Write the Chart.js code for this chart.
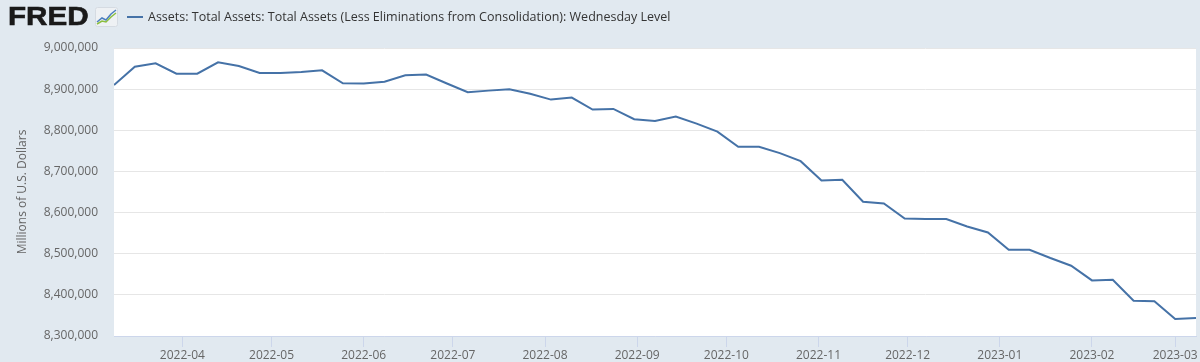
<!DOCTYPE html>
<html>
<head>
<meta charset="utf-8">
<script src="https://cdn.jsdelivr.net/npm/chart.js@4/dist/chart.umd.min.js"></script>
<style>
  html, body { margin: 0; padding: 0; background: #e1e9f0; }
  #wrap { position: relative; width: 1200px; height: 362px; overflow: hidden; }
  #chart { position: absolute; left: 0; top: 0; }
  #logo { position: absolute; left: 8px; top: 1px; font-family: "Liberation Sans", Arial, sans-serif;
          font-weight: 900; font-size: 26px; letter-spacing: 0; color: #1a1a1a;
          transform: scaleX(1.14); transform-origin: left top; -webkit-text-stroke: 0.6px #1a1a1a; }
  #icon { position: absolute; left: 95px; top: 7px; }
  #legend { position: absolute; left: 127px; top: 8px; font-family: "Open Sans", sans-serif;
            font-size: 12.5px; color: #333; white-space: nowrap; }
  #legend i { display: inline-block; width: 16px; height: 2px; background: #4572a7;
              vertical-align: middle; margin-right: 5px; position: relative; top: -1px; }
</style>
</head>
<body>
<div id="wrap">
  <canvas id="chart" width="1200" height="362"></canvas>
  <div id="logo">FRED</div>
  <svg id="icon" width="23" height="20" viewBox="0 0 23 20">
    <rect x="0.5" y="0.5" width="22" height="19" rx="2" fill="#eef1f4" stroke="#d5dbe2"/>
    <polyline points="2,15 7,11 11,13 16,7 21,3" fill="none" stroke="#4c7fc0" stroke-width="1.5"/>
    <polyline points="2,17 7,14 11,15 16,10 21,6" fill="none" stroke="#8bbf3f" stroke-width="1.5"/>
  </svg>
  <div id="legend"><i></i>Assets: Total Assets: Total Assets (Less Eliminations from Consolidation): Wednesday Level</div>
</div>
<script>
  // weekly observations (Wednesdays)
  const dates = [
    '2022-03-09', '2022-03-16', '2022-03-23', '2022-03-30', '2022-04-06', '2022-04-13',
    '2022-04-20', '2022-04-27', '2022-05-04', '2022-05-11', '2022-05-18', '2022-05-25',
    '2022-06-01', '2022-06-08', '2022-06-15', '2022-06-22', '2022-06-29', '2022-07-06',
    '2022-07-13', '2022-07-20', '2022-07-27', '2022-08-03', '2022-08-10', '2022-08-17',
    '2022-08-24', '2022-08-31', '2022-09-07', '2022-09-14', '2022-09-21', '2022-09-28',
    '2022-10-05', '2022-10-12', '2022-10-19', '2022-10-26', '2022-11-02', '2022-11-09',
    '2022-11-16', '2022-11-23', '2022-11-30', '2022-12-07', '2022-12-14', '2022-12-21',
    '2022-12-28', '2023-01-04', '2023-01-11', '2023-01-18', '2023-01-25', '2023-02-01',
    '2023-02-08', '2023-02-15', '2023-02-22', '2023-03-01', '2023-03-08'
  ];

  // millions of U.S. dollars
  const totalAssets = [
    8910000, 8954600, 8962900, 8937700, 8937700, 8965300,
    8956300, 8939300, 8939000, 8941700, 8945800, 8914300,
    8914000, 8918200, 8933700, 8935300, 8913800, 8892500,
    8896400, 8899700, 8889000, 8874600, 8879400, 8850300,
    8851900, 8826900, 8822800, 8833300, 8816300, 8796800,
    8759700, 8759700, 8744400, 8725000, 8678000, 8679600,
    8626200, 8622100, 8585700, 8584200, 8584200, 8566300,
    8551700, 8509700, 8509700, 8489500, 8470900, 8435200,
    8436900, 8385900, 8384200, 8341500, 8343900
  ];

  const monthTicks = ['2022-04', '2022-05', '2022-06', '2022-07', '2022-08', '2022-09',
                      '2022-10', '2022-11', '2022-12', '2023-01', '2023-02', '2023-03'];

  const yMin = 8300000;
  const yMax = 9000000;
  const yStep = 100000;

  const toMs = s => Date.parse(s + 'T00:00:00Z');
  const points = dates.map((d, i) => ({ x: toMs(d), y: totalAssets[i] }));

  const plotBg = {
    id: 'plotBg',
    beforeDraw(chart) {
      const { ctx, chartArea: a } = chart;
      ctx.save();
      ctx.fillStyle = '#ffffff';
      ctx.fillRect(a.left, a.top, a.right - a.left, a.bottom - a.top);
      ctx.restore();
    }
  };

  const ctx = document.getElementById('chart').getContext('2d');
  new Chart(ctx, {
    type: 'line',
    data: {
      datasets: [{
        label: 'Assets: Total Assets: Total Assets (Less Eliminations from Consolidation): Wednesday Level',
        data: points,
        borderColor: '#4572a7',
        borderWidth: 2,
        pointRadius: 0,
        tension: 0,
        fill: false
      }]
    },
    options: {
      responsive: false,
      animation: false,
      layout: { padding: { top: 48, right: 4, left: 0, bottom: 0 } },
      plugins: { legend: { display: false }, tooltip: { enabled: false } },
      scales: {
        x: {
          type: 'linear',
          min: toMs(dates[0]),
          max: toMs(dates[dates.length - 1]),
          afterBuildTicks: scale => {
            scale.ticks = monthTicks.map(m => ({ value: toMs(m + '-01') }));
          },
          afterFit: scale => { scale.height = 26; },
          grid: {
            drawOnChartArea: false,
            drawTicks: true,
            tickLength: 11,
            color: '#ccd6eb'
          },
          border: { display: true, color: '#ccd6eb' },
          ticks: {
            autoSkip: false,
            maxRotation: 0,
            padding: 1,
            color: '#666666',
            font: { family: 'Open Sans', size: 12 },
            callback: v => {
              const d = new Date(v);
              return d.getUTCFullYear() + '-' + String(d.getUTCMonth() + 1).padStart(2, '0');
            }
          }
        },
        y: {
          min: yMin,
          max: yMax,
          afterFit: scale => { scale.width = 114; },
          grid: { color: '#e6e6e6', drawTicks: false },
          border: { display: false },
          ticks: {
            stepSize: yStep,
            padding: 16,
            color: '#666666',
            font: { family: 'Open Sans', size: 12 },
            callback: v => v.toLocaleString('en-US')
          },
          title: {
            display: true,
            text: 'Millions of U.S. Dollars',
            color: '#666666',
            font: { family: 'Open Sans', size: 12 },
            padding: { top: 15, bottom: 0 }
          }
        }
      }
    },
    plugins: [plotBg]
  });
</script>
</body>
</html>
